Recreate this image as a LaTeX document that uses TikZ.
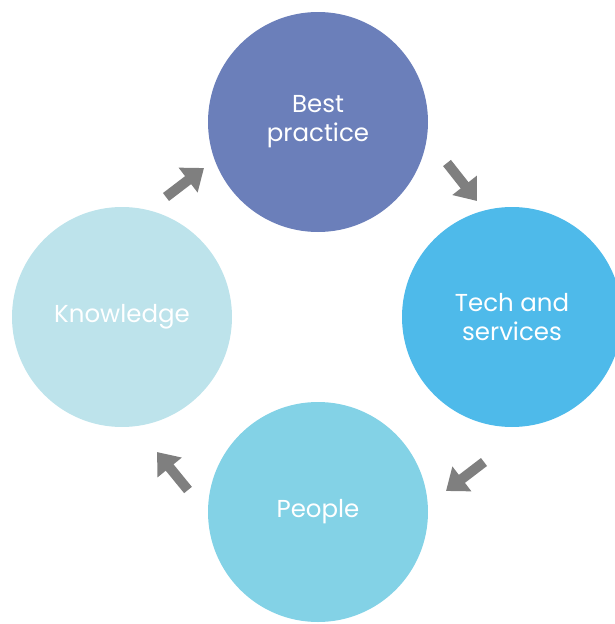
\documentclass[tikz,border=0pt]{standalone}
\usepackage{fontspec}
\setmainfont{Poppins}
\usetikzlibrary{arrows.meta}
\definecolor{cTop}{RGB}{107,127,186}
\definecolor{cRight}{RGB}{78,186,234}
\definecolor{cBottom}{RGB}{131,210,230}
\definecolor{cLeft}{RGB}{189,227,235}
\definecolor{cArrow}{RGB}{127,127,127}
\begin{document}
\begin{tikzpicture}[x=1pt,y=1pt,
  bubble/.style={circle,minimum size=220pt,inner sep=0pt,text=white,align=center,
    font=\fontsize{24.5pt}{29pt}\selectfont},
  flow/.style={draw=cArrow,line width=10pt,-{Triangle[length=20pt,width=30pt]}}]
\useasboundingbox (0,0) rectangle (615,-624);
\node[bubble,fill=cTop] (best) at (318,-122) {Best\\practice};
\node[bubble,fill=cRight] (tech) at (512,-317) {Tech and\\services};
\node[bubble,fill=cBottom] (people) at (318,-512) {People};
\node[bubble,fill=cLeft] (know) at (122,-317) {Knowledge};
\coordinate (a1) at (166,-197); \coordinate (b1) at (204,-168);
\coordinate (a2) at (447,-163); \coordinate (b2) at (477,-201);
\coordinate (a3) at (484,-462); \coordinate (b3) at (446,-491);
\coordinate (a4) at (188,-490); \coordinate (b4) at (157,-452);
\draw[flow] (a1) -- (b1);
\draw[flow] (a2) -- (b2);
\draw[flow] (a3) -- (b3);
\draw[flow] (a4) -- (b4);
\end{tikzpicture}
\end{document}
